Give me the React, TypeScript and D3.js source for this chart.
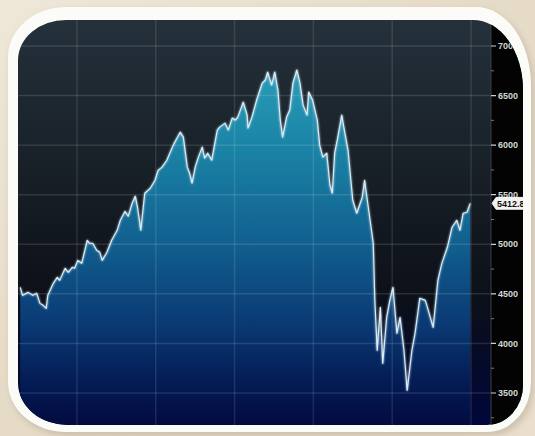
import React from 'react';
import * as d3 from 'd3';

// Index level (time as fractional years)
const years = [
  2004.28, 2004.31, 2004.38, 2004.44, 2004.49, 2004.53, 2004.57, 2004.61, 2004.63, 2004.70,
  2004.75, 2004.78, 2004.85, 2004.89, 2004.94, 2004.97, 2005.01, 2005.06, 2005.13, 2005.16,
  2005.20, 2005.25, 2005.29, 2005.32, 2005.38, 2005.44, 2005.51, 2005.55, 2005.61, 2005.65,
  2005.70, 2005.74, 2005.77, 2005.81, 2005.86, 2005.93, 2005.99, 2006.03, 2006.08, 2006.14,
  2006.21, 2006.24, 2006.31, 2006.35, 2006.40, 2006.43, 2006.46, 2006.50, 2006.54, 2006.59,
  2006.62, 2006.66, 2006.71, 2006.78, 2006.81, 2006.88, 2006.92, 2006.97, 2007.01, 2007.04,
  2007.11, 2007.16, 2007.17, 2007.22, 2007.28, 2007.35, 2007.39, 2007.42, 2007.47, 2007.51,
  2007.55, 2007.58, 2007.61, 2007.66, 2007.70, 2007.74, 2007.79, 2007.83, 2007.87, 2007.92,
  2007.94, 2007.99, 2008.05, 2008.08, 2008.12, 2008.17, 2008.21, 2008.24, 2008.27, 2008.31,
  2008.36, 2008.40, 2008.44, 2008.50, 2008.55, 2008.62, 2008.65, 2008.69, 2008.76, 2008.78,
  2008.81, 2008.85, 2008.88, 2008.93, 2008.97, 2009.01, 2009.06, 2009.10, 2009.15, 2009.19,
  2009.25, 2009.29, 2009.35, 2009.42, 2009.44, 2009.52, 2009.58, 2009.63, 2009.70, 2009.76,
  2009.82, 2009.86, 2009.90, 2009.95, 2009.99,
];
const values = [
  4566, 4485, 4515, 4485, 4505, 4404, 4384, 4354, 4485, 4606,
  4667, 4636, 4758, 4717, 4768, 4758, 4838, 4808, 5040, 5010,
  5010, 4939, 4919, 4838, 4919, 5040, 5141, 5242, 5333, 5283,
  5414, 5485, 5364, 5141, 5515, 5566, 5646, 5747, 5778, 5848,
  5980, 6030, 6131, 6081, 5778, 5717, 5616, 5778, 5879, 5980,
  5869, 5919, 5848, 6152, 6182, 6222, 6152, 6273, 6253, 6283,
  6434, 6303, 6172, 6283, 6455, 6626, 6657, 6737, 6606, 6737,
  6556, 6253, 6081, 6283, 6354, 6626, 6758, 6626, 6404, 6303,
  6535, 6455, 6253, 6000, 5879, 5919, 5596, 5515, 5919, 6081,
  6303, 6121, 5949, 5444, 5313, 5475, 5646, 5414, 5010, 4434,
  3929, 4364, 3798, 4263, 4434, 4566, 4101, 4263, 3929, 3525,
  3929, 4101, 4455, 4434, 4384, 4162, 4636, 4808, 4970, 5172,
  5242, 5141, 5313, 5323, 5412.8,
];
const yTicks = [3500, 4000, 4500, 5000, 5500, 6000, 6500, 7000];
const yMinorTicks = [3250, 3750, 4250, 4750, 5250, 5750, 6250, 6750, 7250];
const xGridYears = [2005, 2006, 2007, 2008, 2009, 2010];
const lastLabel = '5412.8';

// rounded rectangle with individual elliptical corners
function roundedPath(
  l: number, t: number, r: number, b: number,
  tl: [number, number], tr: [number, number], br: [number, number], bl: [number, number]
) {
  return [
    `M${l + tl[0]},${t}`,
    `H${r - tr[0]}`,
    `A${tr[0]},${tr[1]} 0 0 1 ${r},${t + tr[1]}`,
    `V${b - br[1]}`,
    `A${br[0]},${br[1]} 0 0 1 ${r - br[0]},${b}`,
    `H${l + bl[0]}`,
    `A${bl[0]},${bl[1]} 0 0 1 ${l},${b - bl[1]}`,
    `V${t + tl[1]}`,
    `A${tl[0]},${tl[1]} 0 0 1 ${l + tl[0]},${t}`,
    'Z',
  ].join(' ');
}

export default function App() {
  const W = 535;
  const H = 436;
  const plotLeft = 18;
  const plotRight = 491;
  const panelRight = 523;
  const plotTop = 20;
  const plotBottom = 425;

  const x = d3.scaleLinear().domain([2004.277, 2010.254]).range([20, 491]);
  const y = d3.scaleLinear().domain([3500, 7000]).range([393, 46]);

  const data = years.map((t, i) => ({ t, v: values[i] }));
  const lineGen = d3
    .line<{ t: number; v: number }>()
    .x((d) => x(d.t))
    .y((d) => y(d.v));
  const areaGen = d3
    .area<{ t: number; v: number }>()
    .x((d) => x(d.t))
    .y0(plotBottom)
    .y1((d) => y(d.v));

  const last = data[data.length - 1];
  const fontFamily = '"Liberation Sans", Arial, sans-serif';

  const panelD = roundedPath(plotLeft, plotTop, panelRight, plotBottom, [48, 40], [50, 70], [36, 40], [50, 42]);
  const frameD = roundedPath(8, 7, 531, 432, [58, 50], [55, 78], [44, 50], [58, 50]);
  const shadowD = roundedPath(10, 10, 534, 436, [58, 50], [55, 78], [44, 50], [58, 50]);

  return (
    <svg
      width={W}
      height={H}
      viewBox={`0 0 ${W} ${H}`}
      style={{ position: 'absolute', left: 0, top: 0, display: 'block' }}
    >
      <defs>
        <linearGradient id="bgBeige" x1="0" y1="0" x2="1" y2="1">
          <stop offset="0%" stopColor="#efe7d8" />
          <stop offset="45%" stopColor="#e6dbc6" />
          <stop offset="100%" stopColor="#e9dfcc" />
        </linearGradient>
        <linearGradient id="plotBg" gradientUnits="userSpaceOnUse" x1="0" y1={plotTop} x2="0" y2={plotBottom}>
          <stop offset="0%" stopColor="#24313b" />
          <stop offset="40%" stopColor="#171e26" />
          <stop offset="68%" stopColor="#0c1019" />
          <stop offset="85%" stopColor="#050a2a" />
          <stop offset="100%" stopColor="#01073a" />
        </linearGradient>
        <linearGradient id="areaFill" gradientUnits="userSpaceOnUse" x1="0" y1="60" x2="0" y2={plotBottom}>
          <stop offset="0%" stopColor="#2aa0ba" />
          <stop offset="25%" stopColor="#1a82a5" />
          <stop offset="50%" stopColor="#11608f" />
          <stop offset="72%" stopColor="#0a3a74" />
          <stop offset="88%" stopColor="#041c55" />
          <stop offset="100%" stopColor="#020b40" />
        </linearGradient>
        <clipPath id="panelClip">
          <path d={panelD} />
        </clipPath>
        <filter id="glow" x="-5%" y="-5%" width="110%" height="110%">
          <feGaussianBlur stdDeviation="1.2" result="b" />
          <feMerge>
            <feMergeNode in="b" />
            <feMergeNode in="SourceGraphic" />
          </feMerge>
        </filter>
        <filter id="shadow" x="-5%" y="-5%" width="110%" height="110%">
          <feGaussianBlur stdDeviation="3" />
        </filter>
      </defs>

      {/* beige background */}
      <rect x={0} y={0} width={W} height={H} fill="url(#bgBeige)" />

      {/* frame shadow + white frame */}
      <path d={shadowD} fill="#b3a690" opacity={0.5} filter="url(#shadow)" />
      <path d={frameD} fill="#fbfbf8" />

      <g clipPath="url(#panelClip)">
        <rect x={plotLeft} y={plotTop} width={panelRight - plotLeft} height={plotBottom - plotTop} fill="url(#plotBg)" />

        <path d={areaGen(data) || ''} fill="url(#areaFill)" />

        {/* gridlines */}
        {yTicks.map((t) => (
          <line
            key={'h' + t}
            x1={plotLeft}
            x2={plotRight}
            y1={y(t)}
            y2={y(t)}
            stroke="#ffffff"
            strokeOpacity={0.12}
            strokeWidth={1.5}
          />
        ))}
        {xGridYears.map((yr) => (
          <line
            key={'v' + yr}
            x1={x(yr)}
            x2={x(yr)}
            y1={plotTop}
            y2={plotBottom}
            stroke="#ffffff"
            strokeOpacity={0.11}
            strokeWidth={1.5}
          />
        ))}

        {/* price line */}
        <path
          d={lineGen(data) || ''}
          fill="none"
          stroke="#d9eef8"
          strokeWidth={1.15}
          strokeLinejoin="round"
          filter="url(#glow)"
        />

        {/* axis panel */}
        <rect x={plotRight} y={plotTop} width={panelRight - plotRight} height={plotBottom - plotTop} fill="#030303" />
        <line x1={plotRight} x2={plotRight} y1={plotTop} y2={plotBottom} stroke="#3a3f44" strokeWidth={1} />
        {yMinorTicks.map((t) => (
          <line key={'m' + t} x1={plotRight} x2={plotRight + 3} y1={y(t)} y2={y(t)} stroke="#777" strokeWidth={1} />
        ))}
        {yTicks.map((t) => (
          <g key={'t' + t}>
            <line x1={plotRight} x2={plotRight + 5} y1={y(t)} y2={y(t)} stroke="#cfcfcf" strokeWidth={1.2} />
            <text
              x={plotRight + 7}
              y={y(t)}
              dy="0.35em"
              fill="#d6d6d6"
              fontSize={9}
              fontWeight="bold"
              fontFamily={fontFamily}
            >
              {String(t)}
            </text>
          </g>
        ))}

        {/* last value label */}
        <g>
          <path
            d={`M${plotRight + 1},${y(last.v)} l4,-6 h36 v12 h-36 z`}
            fill="#f2f2f2"
            stroke="#ffffff"
            strokeWidth={0.8}
          />
          <text
            x={plotRight + 6}
            y={y(last.v)}
            dy="0.35em"
            fill="#111"
            fontSize={9}
            fontWeight="bold"
            fontFamily={fontFamily}
          >
            {lastLabel}
          </text>
        </g>
      </g>
    </svg>
  );
}
